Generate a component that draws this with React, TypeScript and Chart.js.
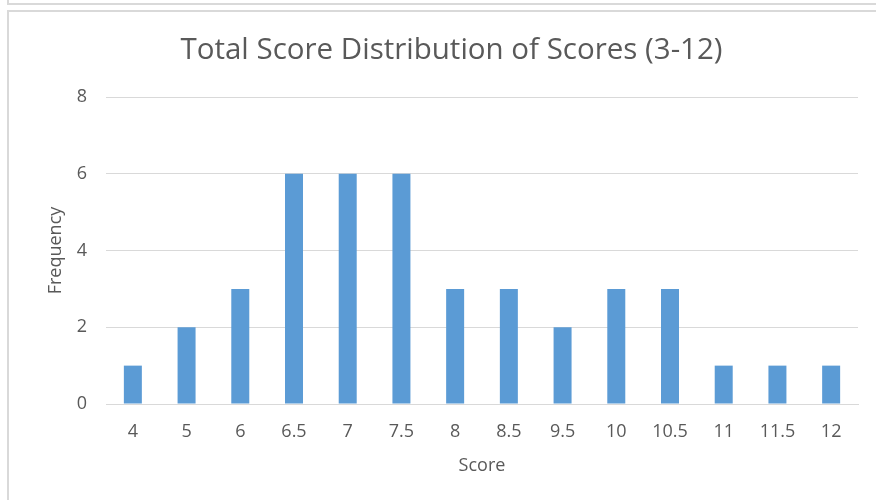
import React, { useEffect, useRef } from "react";
import { Chart, registerables } from "chart.js";

Chart.register(...registerables);

const categories = ["4", "5", "6", "6.5", "7", "7.5", "8", "8.5", "9.5", "10", "10.5", "11", "11.5", "12"];
const frequencies = [1, 2, 3, 6, 6, 6, 3, 3, 2, 3, 3, 1, 1, 1];
const titleText = "Total Score Distribution of Scores (3-12)";
const xTitle = "Score";
const yTitle = "Frequency";

const FONT = "'Open Sans', 'Noto Sans', sans-serif";
const TXT = "#595959";
const GRID = "#d9d9d9";

export default function App() {
  const ref = useRef<HTMLCanvasElement | null>(null);
  useEffect(() => {
    if (!ref.current) return;
    const chart = new Chart(ref.current, {
      type: "bar",
      data: {
        labels: categories,
        datasets: [
          {
            label: "Frequency",
            data: frequencies,
            backgroundColor: "#5B9BD5",
            borderWidth: 0,
            barPercentage: 0.335,
            categoryPercentage: 1,
          },
        ],
      },
      options: {
        animation: false,
        responsive: false,
        maintainAspectRatio: false,
        layout: { padding: { left: 45, right: 18, top: 33, bottom: 23 } },
        plugins: {
          legend: { display: false },
          tooltip: { enabled: false },
          title: {
            display: true,
            text: titleText,
            color: TXT,
            font: { family: FONT, size: 29.5, weight: "normal" },
            padding: { top: 0, bottom: 28.6 },
          },
        },
        scales: {
          x: {
            grid: { display: false, drawTicks: false },
            border: { color: GRID, width: 1 },
            ticks: { color: TXT, font: { family: FONT, size: 18 }, padding: 17, maxRotation: 0, autoSkip: false },
            title: { display: true, text: xTitle, color: TXT, font: { family: FONT, size: 18 }, padding: { top: 0, bottom: 0 } },
            afterFit: (scale: any) => {
              scale.height = 73;
            },
          },
          y: {
            min: 0,
            max: 8,
            ticks: { stepSize: 2, color: TXT, font: { family: FONT, size: 18 }, padding: 19 },
            grid: { color: GRID, lineWidth: 1, drawTicks: false },
            border: { display: false },
            title: { display: true, text: yTitle, color: TXT, font: { family: FONT, size: 18 }, padding: { top: 0, bottom: 0 } },
            afterFit: (scale: any) => {
              scale.width = 61;
            },
          },
        },
      },
    });
    return () => chart.destroy();
  }, []);

  return (
    <div style={{ position: "fixed", left: 0, top: 0, width: 876, height: 500, background: "#fff", overflow: "hidden" }}>
      <div style={{ position: "absolute", left: 7, top: -10, width: 900, height: 15, borderLeft: `2px solid ${GRID}`, borderBottom: `2px solid ${GRID}`, boxSizing: "border-box" }} />
      <div style={{ position: "absolute", left: 7, top: 10, width: 900, height: 520, border: `2px solid ${GRID}`, boxSizing: "border-box" }} />
      <canvas ref={ref} width={876} height={500} style={{ position: "absolute", left: 0, top: 0, width: 876, height: 500 }} />
    </div>
  );
}
